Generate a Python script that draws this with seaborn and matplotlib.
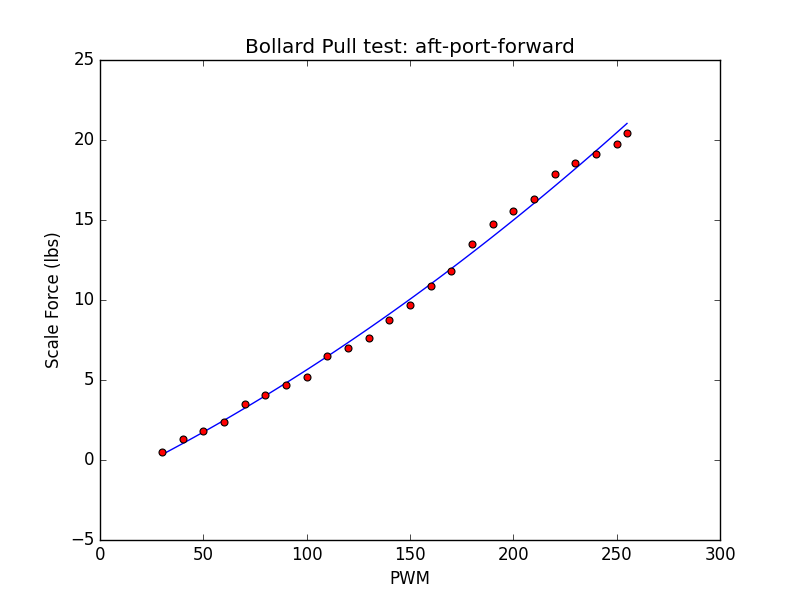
import numpy as np
import pandas as pd
import matplotlib
matplotlib.use("Agg")
import matplotlib.pyplot as plt
import seaborn as sb

# valores
pwm = [30, 40, 50, 60, 70, 80, 90, 100, 110, 120, 130, 140, 150, 160,
       170, 180, 190, 200, 210, 220, 230, 240, 250, 255]
forca = [0.5, 1.3, 1.8, 2.4, 3.5, 4.05, 4.7, 5.2, 6.5, 7.0, 7.6, 8.75, 9.7,
         10.9, 11.8, 13.5, 14.75, 15.55, 16.3, 17.9, 18.55, 19.1, 19.75, 20.45]

df = pd.DataFrame({"PWM": pwm, "forca": forca})

# ajuste quadratico
coef = np.polyfit(df["PWM"], df["forca"], 2)
xs = np.linspace(30, 255, 100)
fit = pd.DataFrame({"PWM": xs, "forca": np.polyval(coef, xs)})

plt.style.use("classic")
fig, ax = plt.subplots(figsize=(8, 6), dpi=100)
sb.lineplot(data=fit, x="PWM", y="forca", color="blue", ax=ax)
sb.scatterplot(data=df, x="PWM", y="forca", color="red", edgecolor="black",
               s=25, linewidth=0.8, ax=ax, zorder=3)
ax.set_xlim(0, 300)
ax.set_ylim(-5, 25)
ax.set_xlabel("PWM")
ax.set_ylabel("Scale Force (lbs)")
ax.set_title("Bollard Pull test: aft-port-forward")
fig.savefig("out.png", dpi=100)
